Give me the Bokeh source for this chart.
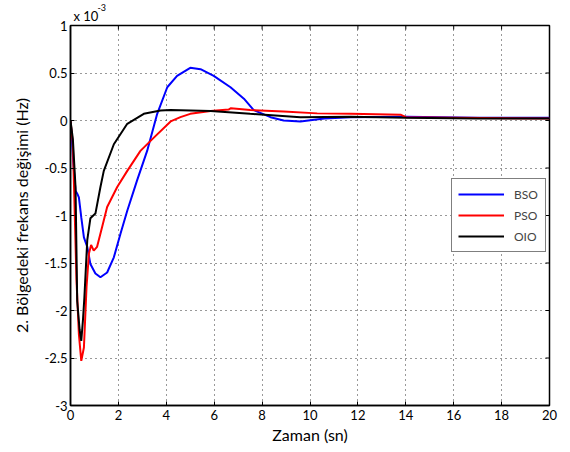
import math
from bokeh.plotting import figure
from bokeh.models import (Range1d, FixedTicker, Legend, LegendItem, Title)
from bokeh.embed import file_html
from bokeh.resources import INLINE

# data (y values in units of 1e-3 Hz)
bso_t = [0, 0.05, 0.11, 0.21, 0.30, 0.35, 0.45, 0.56, 0.70, 0.83, 1.04, 1.25, 1.53, 1.81, 2.09,
         2.37, 2.78, 3.20, 3.62, 4.04, 4.45, 5.00, 5.43, 5.98, 6.68, 7.24, 7.65, 8.35, 8.90,
         9.60, 10.6, 11.7, 14.0, 17.0, 20.0]
bso_y = [0, -0.15, -0.42, -0.74, -0.78, -0.81, -1.02, -1.23, -1.33, -1.51, -1.61, -1.65, -1.60,
         -1.44, -1.19, -0.95, -0.63, -0.32, 0.07, 0.35, 0.47, 0.555, 0.54, 0.47, 0.35, 0.23,
         0.11, 0.035, 0.0, -0.01, 0.02, 0.035, 0.04, 0.03, 0.03]

pso_t = [0, 0.10, 0.20, 0.25, 0.35, 0.45, 0.56, 0.67, 0.77, 0.86, 0.97, 1.11, 1.32, 1.53, 1.95,
         2.37, 2.92, 3.48, 4.18, 4.59, 5.00, 5.85, 6.60, 6.70, 7.50, 8.90, 10.3, 11.7, 13.8,
         14.0, 16.0, 20.0]
pso_y = [0, -0.25, -1.20, -1.68, -2.25, -2.53, -2.39, -1.75, -1.40, -1.31, -1.37, -1.33, -1.12,
         -0.91, -0.70, -0.53, -0.32, -0.18, -0.01, 0.035, 0.07, 0.10, 0.115, 0.13, 0.11, 0.095,
         0.075, 0.07, 0.06, 0.035, 0.03, 0.02]

oio_t = [0, 0.10, 0.21, 0.28, 0.38, 0.45, 0.52, 0.58, 0.70, 0.83, 1.04, 1.25, 1.39, 1.81, 2.37,
         3.06, 3.76, 4.18, 5.85, 7.50, 9.60, 11.7, 14.0, 17.0, 20.0]
oio_y = [0, -0.20, -0.70, -1.90, -2.20, -2.32, -2.10, -1.86, -1.26, -1.03, -0.98, -0.70, -0.53,
         -0.25, -0.035, 0.07, 0.105, 0.11, 0.10, 0.07, 0.035, 0.04, 0.03, 0.02, 0.02]

x_ticks = list(range(0, 21, 2))
y_ticks = [-3, -2.5, -2, -1.5, -1, -0.5, 0, 0.5, 1]
y_tick_labels = {-3: "-3", -2.5: "-2.5", -2: "-2", -1.5: "-1.5", -1: "-1", -0.5: "-0.5",
                 0: "0", 0.5: "0.5", 1: "1"}

FONT = "Lato"

p = figure(width=566, height=450, output_backend="svg", toolbar_location=None,
           x_range=Range1d(0, 20), y_range=Range1d(-3, 1),
           min_border_left=70, min_border_right=17, min_border_top=25, min_border_bottom=45)
p.background_fill_color = "white"
p.border_fill_color = "white"
p.outline_line_color = "black"
p.outline_line_width = 1.5

for ax in (p.xaxis[0], p.yaxis[0]):
    ax.major_tick_in = 4
    ax.major_tick_out = 0
    ax.minor_tick_in = 0
    ax.minor_tick_out = 0
    ax.axis_line_color = "black"
    ax.axis_line_width = 1.5
    ax.major_label_text_font = FONT
    ax.major_label_text_font_size = "13px"
    ax.major_label_text_color = "black"
    ax.axis_label_text_font = FONT
    ax.axis_label_text_font_size = "16px"
    ax.axis_label_text_font_style = "normal"
    ax.axis_label_text_color = "black"

p.xaxis[0].ticker = FixedTicker(ticks=x_ticks)
p.yaxis[0].ticker = FixedTicker(ticks=y_ticks)
p.yaxis[0].major_label_overrides = y_tick_labels
p.xaxis[0].axis_label = "Zaman (sn)"
p.yaxis[0].axis_label = "2. Bölgedeki frekans değişimi (Hz)"
p.xaxis[0].major_label_standoff = 4
p.yaxis[0].major_label_standoff = 3
p.xaxis[0].axis_label_standoff = 2
p.yaxis[0].axis_label_standoff = 11

for g in (p.xgrid[0], p.ygrid[0]):
    g.grid_line_color = "black"
    g.grid_line_alpha = 0.8
    g.grid_line_dash = "1 4"
    g.grid_line_width = 1
p.xgrid[0].ticker = FixedTicker(ticks=x_ticks)
p.ygrid[0].ticker = FixedTicker(ticks=y_ticks)

# tick marks on the top and right edges (half of each dash is clipped by the frame)
p.scatter(x_ticks, [1] * len(x_ticks), marker="dash", size=8, angle=math.pi / 2,
          line_color="black", line_width=1)
p.scatter([20] * len(y_ticks), y_ticks, marker="dash", size=8,
          line_color="black", line_width=1)

r1 = p.line(bso_t, bso_y, line_color="#0000ff", line_width=2)
r2 = p.line(pso_t, pso_y, line_color="#ff0000", line_width=2)
r3 = p.line(oio_t, oio_y, line_color="black", line_width=2)

legend = Legend(items=[LegendItem(label="BSO", renderers=[r1]),
                       LegendItem(label="PSO", renderers=[r2]),
                       LegendItem(label="OIO", renderers=[r3])],
                location=(381, 153))
legend.border_line_color = "black"
legend.border_line_width = 1.5
legend.background_fill_color = "white"
legend.background_fill_alpha = 1
legend.label_text_font = FONT
legend.label_text_font_size = "12px"
legend.glyph_width = 46
legend.glyph_height = 18
legend.label_height = 18
legend.spacing = 3
legend.padding = 6
legend.margin = 0
legend.label_standoff = 10
legend.label_width = 25
p.add_layout(legend, "center")

t_main = Title(text="x 10", align="left", offset=3, standoff=4, text_font=FONT,
               text_font_size="13px", text_font_style="normal", text_color="black")
t_exp = Title(text="-3", align="left", offset=27, standoff=-14, text_font=FONT,
              text_font_size="9px", text_font_style="normal", text_color="black")
p.add_layout(t_main, "above")
p.add_layout(t_exp, "above")

open("out.html", "w").write(file_html(p, INLINE))
